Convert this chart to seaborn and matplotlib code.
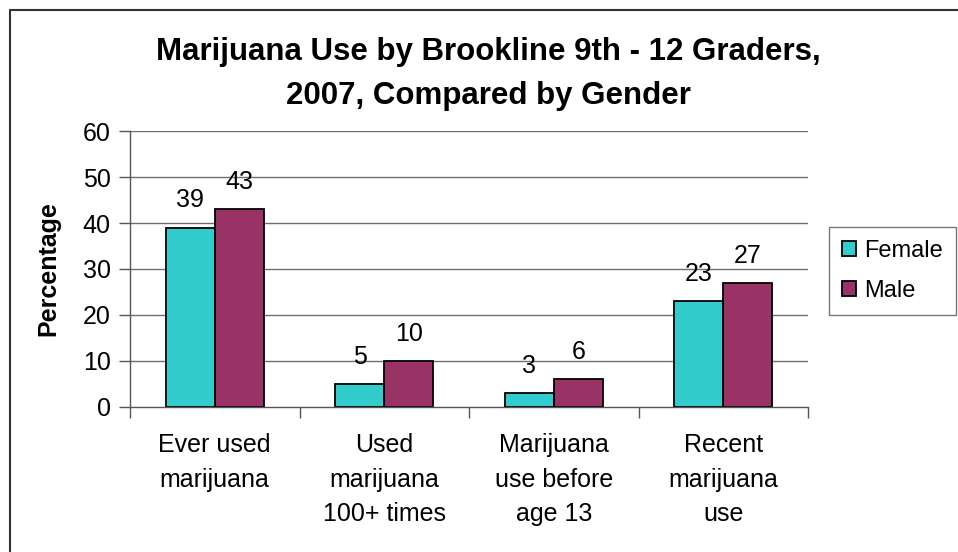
import matplotlib
matplotlib.use("Agg")
import matplotlib.pyplot as plt
import seaborn as sns
import pandas as pd
from matplotlib.lines import Line2D

categories = ["Ever used\nmarijuana", "Used\nmarijuana\n100+ times",
              "Marijuana\nuse before\nage 13", "Recent\nmarijuana\nuse"]
female = [39, 5, 3, 23]
male = [43, 10, 6, 27]
series = ["Female", "Male"]
colors = ["#33CCCC", "#993366"]
yticks = [0, 10, 20, 30, 40, 50, 60]

df = pd.DataFrame({
    "category": categories * 2,
    "value": female + male,
    "gender": [series[0]] * 4 + [series[1]] * 4,
})

sns.set_theme(style="white")
plt.rcParams["font.family"] = ["Liberation Sans", "DejaVu Sans"]
plt.rcParams["text.color"] = "black"
plt.rcParams["axes.labelcolor"] = "black"
plt.rcParams["xtick.labelcolor"] = "black"
plt.rcParams["ytick.labelcolor"] = "black"

W, H = 958, 552
fig = plt.figure(figsize=(W / 100, H / 100), dpi=100)
ax = fig.add_axes([130 / W, (H - 407) / H, 678 / W, 276 / H])

sns.barplot(data=df, x="category", y="value", hue="gender", order=categories,
            hue_order=series, palette=colors, width=0.58, gap=0,
            edgecolor="black", linewidth=1.3, saturation=1, ax=ax, legend=True)

ax.set_ylim(0, 60)
ax.set_xlim(-0.5, 3.5)
ax.set_yticks(yticks)
ax.set_yticklabels([str(t) for t in yticks], fontsize=18, color="black")
for t in yticks[1:]:
    ax.axhline(t, color="#6e6e6e", lw=1.0, zorder=0)

ax.set_xticks(range(4))
ax.set_xticklabels(categories, fontsize=18, linespacing=1.55, va="top",
                   color="black")
ax.set_xticks([-0.5, 0.5, 1.5, 2.5, 3.5], minor=True)
ax.tick_params(axis="x", which="major", length=0, pad=19)
ax.tick_params(axis="x", which="minor", length=8, width=1, color="#555555",
               direction="out", bottom=True)
ax.tick_params(axis="y", length=8, width=1, color="#555555", direction="out",
               left=True, pad=6)

for s in ["top", "right"]:
    ax.spines[s].set_visible(False)
for s in ["left", "bottom"]:
    ax.spines[s].set_color("#555555")
    ax.spines[s].set_linewidth(1.0)

ax.set_xlabel("")
ax.set_ylabel("Percentage", fontsize=18, fontweight="bold", labelpad=16,
              color="black")

for cont in ax.containers:
    ax.bar_label(cont, fmt="%d", fontsize=18, padding=11, color="black")

leg = ax.get_legend()
handles = leg.legend_handles
leg.remove()
fig.legend(handles, series, loc="upper left",
           bbox_to_anchor=(829 / W, 1 - 227 / H), fontsize=17,
           frameon=True, fancybox=False, edgecolor="#555555",
           handlelength=0.6, handleheight=0.6, handletextpad=0.35,
           labelspacing=0.75, borderpad=0.55, borderaxespad=0)

fig.text(488 / W, 1 - 74 / H,
         "Marijuana Use by Brookline 9th - 12 Graders,\n2007, Compared by Gender",
         ha="center", va="center", fontsize=22.5, fontweight="bold",
         linespacing=1.65, color="black")

fig.add_artist(Line2D([10 / W, 1.0], [1 - 10 / H, 1 - 10 / H],
                      color="#333333", lw=1.5, transform=fig.transFigure))
fig.add_artist(Line2D([10 / W, 10 / W], [1 - 10 / H, 0.0],
                      color="#333333", lw=1.5, transform=fig.transFigure))

fig.savefig("out.png", dpi=100)
